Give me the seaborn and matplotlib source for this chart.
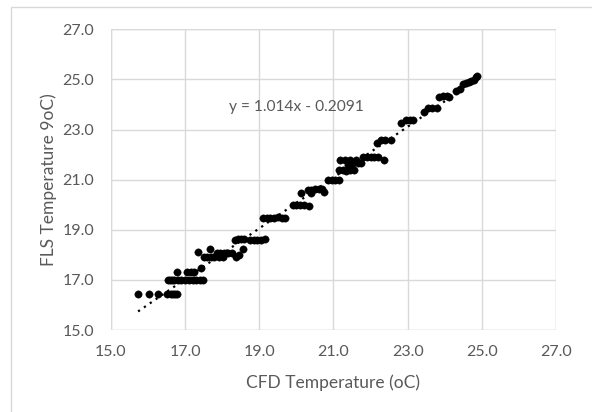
import matplotlib
matplotlib.use("Agg")
import matplotlib.pyplot as plt
import seaborn as sns
import numpy as np
import pandas as pd
from matplotlib.patches import Rectangle

cfd_temp = [
    15.73, 16.02, 16.27, 16.50, 16.62, 16.67, 16.72, 16.77,
    16.55, 16.60, 16.65, 16.70, 16.80, 16.90, 17.00, 17.10, 17.20, 17.30, 17.40, 17.47,
    16.78, 17.05, 17.15, 17.25,
    17.42, 17.35,
    17.50, 17.60, 17.70, 17.78, 17.90,
    17.68,
    17.85, 17.95, 18.05, 18.15, 18.25,
    18.02, 18.38, 18.45, 18.55,
    18.35, 18.42, 18.50, 18.58,
    18.75, 18.85, 18.95, 19.05, 19.15,
    19.10, 19.20, 19.30, 19.40, 19.50, 19.60, 19.70,
    19.90, 20.00, 20.10, 20.20, 20.35,
    20.12,
    20.30, 20.40, 20.50, 20.60, 20.70,
    20.40, 20.75,
    20.85, 20.95, 21.05, 21.15,
    21.15, 21.25, 21.35, 21.45, 21.55,
    21.18, 21.30, 21.45, 21.60,
    21.40, 21.50, 21.65, 21.75,
    21.80, 21.90, 22.00, 22.10, 22.20,
    22.35,
    22.17,
    22.27, 22.40, 22.55,
    22.83,
    22.95, 23.05, 23.15,
    23.43,
    23.55, 23.65, 23.78,
    23.85, 23.95, 24.05, 24.12,
    24.30, 24.40,
    24.48, 24.58, 24.65,
    24.70, 24.78,
    24.83, 24.86,
]
fls_temp = [
    16.45, 16.45, 16.45, 16.45, 16.45, 16.45, 16.45, 16.45,
    17.00, 17.00, 17.00, 17.00, 17.00, 17.00, 17.00, 17.00, 17.00, 17.00, 17.00, 17.00,
    17.33, 17.33, 17.33, 17.33,
    17.47, 18.10,
    17.93, 17.93, 17.93, 17.93, 17.93,
    18.25,
    18.07, 18.07, 18.07, 18.07, 18.07,
    17.90, 17.90, 18.00, 18.25,
    18.60, 18.62, 18.62, 18.62,
    18.60, 18.60, 18.60, 18.60, 18.62,
    19.45, 19.47, 19.47, 19.47, 19.50, 19.47, 19.47,
    20.00, 20.00, 20.00, 20.00, 19.95,
    20.47,
    20.60, 20.60, 20.62, 20.62, 20.62,
    20.45, 20.50,
    21.00, 21.00, 21.00, 21.00,
    21.40, 21.40, 21.35, 21.40, 21.40,
    21.80, 21.80, 21.80, 21.80,
    21.60, 21.62, 21.65, 21.65,
    21.90, 21.90, 21.92, 21.92, 21.90,
    21.80,
    22.45,
    22.60, 22.60, 22.60,
    23.25,
    23.40, 23.40, 23.40,
    23.70,
    23.85, 23.87, 23.87,
    24.30, 24.33, 24.33, 24.30,
    24.55, 24.60,
    24.80, 24.85, 24.88,
    24.95, 24.98,
    25.08, 25.12,
]
slope = 1.014
intercept = -0.2091
equation_label = "y = 1.014x - 0.2091"
ticks = [15.0, 17.0, 19.0, 21.0, 23.0, 25.0, 27.0]
x_title = "CFD Temperature (oC)"
y_title = "FLS Temperature 9oC)"

df = pd.DataFrame({"cfd": cfd_temp, "fls": fls_temp})

sns.set_style("white")
plt.rcParams["font.family"] = ["Lato", "DejaVu Sans"]

grey = "#595959"
grid = "#d9d9d9"

fig = plt.figure(figsize=(5.92, 4.12), dpi=100)
ax = fig.add_axes([111/592, 1-330/412, (556-111)/592, (330-29.3)/412])

ax.set_xlim(15, 27)
ax.set_ylim(15, 27)
ax.set_xticks(ticks)
ax.set_yticks(ticks)
ax.set_xticklabels([f"{t:.1f}" for t in ticks])
ax.set_yticklabels([f"{t:.1f}" for t in ticks])
ax.grid(True, color=grid, linewidth=1.0)
ax.set_axisbelow(True)
for s in ax.spines.values():
    s.set_visible(False)
ax.axhline(15, color=grid, lw=1.0, zorder=0.5)
ax.axhline(27, color=grid, lw=1.0, zorder=0.5)
ax.axvline(15, color=grid, lw=1.0, zorder=0.5)
ax.axvline(27, color=grid, lw=1.0, zorder=0.5)
ax.tick_params(axis="x", length=0, labelsize=11.5, labelcolor=grey, pad=11)
ax.tick_params(axis="y", length=0, labelsize=11.5, labelcolor=grey, pad=12)

# trendline
xs = np.array([min(cfd_temp), max(cfd_temp)])
sns.lineplot(x=xs, y=slope*xs + intercept, ax=ax, color="black",
             linestyle=(0, (1, 2.2)), linewidth=1.6, zorder=2)

sns.scatterplot(data=df, x="cfd", y="fls", ax=ax, color="black", s=28,
                edgecolor="black", linewidth=0.3, zorder=3)

ax.text(20.0, 23.88, equation_label, ha="center", va="center",
        fontsize=11.2, color=grey)

ax.set_xlabel(x_title, fontsize=12.5, color=grey)
ax.set_ylabel(y_title, fontsize=12.5, color=grey)
ax.xaxis.set_label_coords(0.5, (330-383)/300.7)
ax.yaxis.set_label_coords((49-111)/445, 0.5)
ax.xaxis.label.set_va("center")
ax.yaxis.label.set_va("center")

fig.patches.append(Rectangle((11/592, -0.5), 2, 1.5 - 7/412, transform=fig.transFigure,
                             fill=False, edgecolor=grid, linewidth=1.0))

fig.savefig("out.png", dpi=100)
